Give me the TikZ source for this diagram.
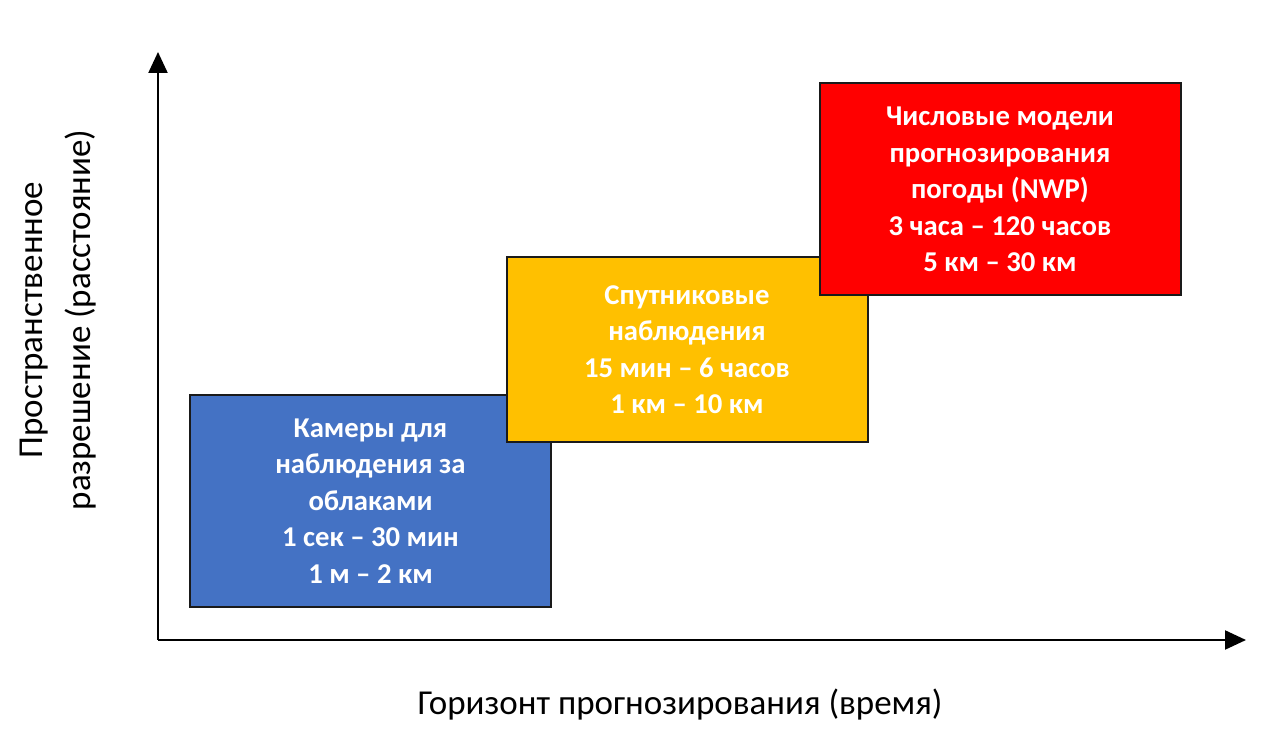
\documentclass[tikz,border=0pt]{standalone}
\usepackage{fontspec}
\setmainfont{Carlito}
\usetikzlibrary{arrows.meta,positioning}
\definecolor{BoxBlue}{HTML}{4472C4}
\definecolor{BoxGold}{HTML}{FFC000}
\definecolor{BoxRed}{HTML}{FF0000}
\definecolor{EdgeGray}{HTML}{1A1A1A}

\begin{document}
\begin{tikzpicture}[x=1pt,y=1pt,
    rangebox/.style={draw=EdgeGray,line width=2pt,minimum width=361pt,inner sep=0pt,
      align=center,text=white,font=\fontsize{28.7}{36.5}\selectfont\bfseries},
    axisline/.style={line width=2.2pt,-{Triangle[length=21pt,width=19pt]}},
    axislabel/.style={align=center,font=\fontsize{35}{48}\selectfont}]
    \useasboundingbox (0,0) rectangle (1272,735);
    \coordinate (origin) at (158,95);
    \coordinate (ytip) at (158,683);
    \coordinate (xtip) at (1246,95);
    \draw[axisline] (origin) -- (ytip);
    \draw[axisline] (origin) -- (xtip);
    \node[rangebox,fill=BoxBlue,minimum height=212pt] (cams) at (370.5,234) {Камеры для\\наблюдения за\\облаками\\1 сек -- 30 мин\\1 м -- 2 км};
    \node[rangebox,fill=BoxGold,minimum height=185pt] (sats) at (687,385.5) {Спутниковые\\наблюдения\\15 мин -- 6 часов\\1 км -- 10 км};
    \node[rangebox,fill=BoxRed,minimum height=212pt] (nwp) at (1000,545.5) {Числовые модели\\прогнозирования\\погоды (NWP)\\3 часа -- 120 часов\\5 км -- 30 км};
    \node[axislabel] (xlabel) at (680,30) {Горизонт прогнозирования (время)};
    \node[axislabel,rotate=90] (ylabel) at (58,415) {Пространственное\\разрешение (расстояние)};
  \end{tikzpicture}
\end{document}
